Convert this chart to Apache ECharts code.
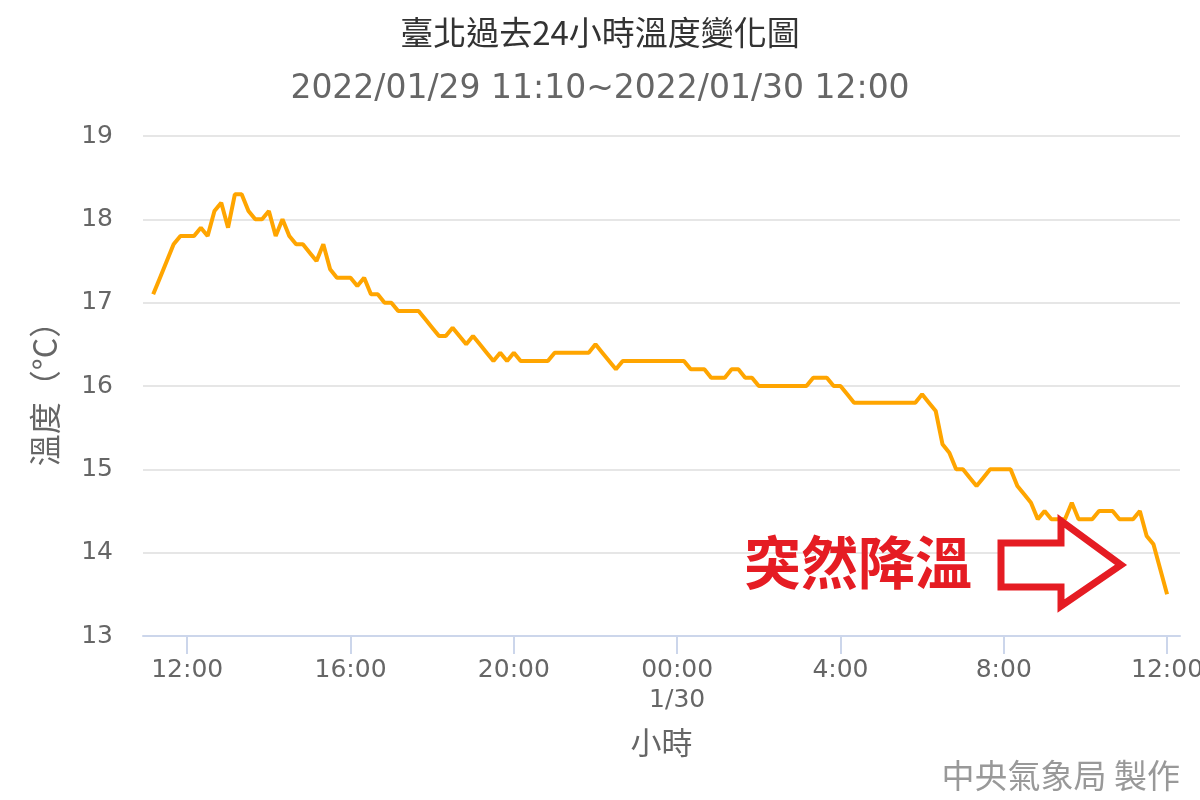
<!DOCTYPE html>
<html>
<head>
<meta charset="utf-8">
<script src="https://cdn.jsdelivr.net/npm/echarts@6/dist/echarts.min.js"></script>
<style>
  html, body { margin: 0; padding: 0; background: #fff; }
  #chart { width: 1200px; height: 800px; }
</style>
</head>
<body>
<div id="chart"></div>
<script>
// readings every 10 minutes, 2022/01/29 11:10 -> 2022/01/30 12:00
let startTime = new Date(2022, 0, 29, 11, 10).getTime();
let stepMinutes = 10;
let temps = [
    17.1, 17.3, 17.5, 17.7, 17.8,                 // 11:10 - 11:50
    17.8, 17.8, 17.9, 17.8, 18.1, 18.2,           // 12
    17.9, 18.3, 18.3, 18.1, 18.0, 18.0,           // 13
    18.1, 17.8, 18.0, 17.8, 17.7, 17.7,           // 14
    17.6, 17.5, 17.7, 17.4, 17.3, 17.3,           // 15
    17.3, 17.2, 17.3, 17.1, 17.1, 17.0,           // 16
    17.0, 16.9, 16.9, 16.9, 16.9, 16.8,           // 17
    16.7, 16.6, 16.6, 16.7, 16.6, 16.5,           // 18
    16.6, 16.5, 16.4, 16.3, 16.4, 16.3,           // 19
    16.4, 16.3, 16.3, 16.3, 16.3, 16.3,           // 20
    16.4, 16.4, 16.4, 16.4, 16.4, 16.4,           // 21
    16.5, 16.4, 16.3, 16.2, 16.3, 16.3,           // 22
    16.3, 16.3, 16.3, 16.3, 16.3, 16.3,           // 23
    16.3, 16.3, 16.2, 16.2, 16.2, 16.1,           // 00
    16.1, 16.1, 16.2, 16.2, 16.1, 16.1,           // 01
    16.0, 16.0, 16.0, 16.0, 16.0, 16.0,           // 02
    16.0, 16.0, 16.1, 16.1, 16.1, 16.0,           // 03
    16.0, 15.9, 15.8, 15.8, 15.8, 15.8,           // 04
    15.8, 15.8, 15.8, 15.8, 15.8, 15.8,           // 05
    15.9, 15.8, 15.7, 15.3, 15.2, 15.0,           // 06
    15.0, 14.9, 14.8, 14.9, 15.0, 15.0,           // 07
    15.0, 15.0, 14.8, 14.7, 14.6, 14.4,           // 08
    14.5, 14.4, 14.4, 14.4, 14.6, 14.4,           // 09
    14.4, 14.4, 14.5, 14.5, 14.5, 14.4,           // 10
    14.4, 14.4, 14.5, 14.2, 14.1, 13.8,           // 11
    13.5                                          // 12:00
];
let yTicks = { min: 13, max: 19, interval: 1 };

let titleText = '臺北過去24小時溫度變化圖';
let subtitleText = '2022/01/29 11:10~2022/01/30 12:00';
let yName = '溫度（°C）';
let xName = '小時';
let creditText = '中央氣象局 製作';
let noteText = '突然降溫';

let points = temps.map(function (v, i) {
    return [startTime + i * stepMinutes * 60000, v];
});

let chart = echarts.init(document.getElementById('chart'));
let HOUR = 3600 * 1000;

let option = {
    backgroundColor: '#fff',
    animation: false,
    title: [
        {
            text: titleText,
            left: 'center',
            top: 11,
            textStyle: { fontFamily: 'Noto Sans CJK TC', fontSize: 33, fontWeight: 'normal', color: '#333' }
        },
        {
            text: subtitleText,
            left: 'center',
            top: 68,
            textStyle: { fontFamily: 'DejaVu Sans', fontSize: 33, fontWeight: 'normal', color: '#666' }
        }
    ],
    grid: { left: 143, right: 20, top: 136, bottom: 164, outerBoundsMode: 'none', containLabel: false },
    xAxis: {
        type: 'time',
        min: startTime - 15 * 60000,
        max: startTime + (temps.length - 1) * stepMinutes * 60000 + 19 * 60000,
        minInterval: 4 * HOUR,
        maxInterval: 4 * HOUR,
        name: xName,
        nameLocation: 'middle',
        nameGap: 91,
        nameTextStyle: { fontFamily: 'Noto Sans CJK TC', fontSize: 31, color: '#666' },
        axisLine: { lineStyle: { color: '#ccd6eb', width: 2 } },
        axisTick: { show: true, length: 18, lineStyle: { color: '#ccd6eb', width: 2 } },
        splitLine: { show: false },
        axisLabel: {
            margin: 19,
            fontFamily: 'DejaVu Sans',
            fontSize: 25,
            color: '#666',
            lineHeight: 30,
            hideOverlap: false,
            formatter: function (val) {
                let d = new Date(val);
                let h = d.getHours();
                if (h === 0) {
                    return '00:00\n' + (d.getMonth() + 1) + '/' + d.getDate();
                }
                return h + ':00';
            }
        }
    },
    yAxis: {
        type: 'value',
        min: yTicks.min,
        max: yTicks.max,
        interval: yTicks.interval,
        name: yName,
        nameLocation: 'middle',
        nameRotate: 90,
        nameGap: 82,
        nameTextStyle: { fontFamily: 'Noto Sans CJK TC', fontSize: 32, color: '#666' },
        axisLine: { show: false },
        axisTick: { show: false },
        axisLabel: { margin: 30, fontFamily: 'DejaVu Sans', fontSize: 25, color: '#666' },
        splitLine: { lineStyle: { color: '#e6e6e6', width: 2 } }
    },
    series: [
        {
            name: '溫度',
            type: 'line',
            data: points,
            showSymbol: false,
            symbol: 'none',
            lineStyle: { color: '#ffa500', width: 4 },
            itemStyle: { color: '#ffa500' },
            z: 2
        }
    ],
    graphic: [
        {
            type: 'text',
            right: 20,
            top: 759,
            style: {
                text: creditText,
                font: '33px "Noto Sans CJK TC"',
                fill: '#999'
            }
        },
        {
            type: 'text',
            left: 744,
            top: 534,
            z: 10,
            style: {
                text: noteText,
                font: 'bold 57px "Noto Sans CJK TC"',
                fill: '#e51c23'
            }
        },
        {
            type: 'polygon',
            z: 10,
            shape: {
                points: [[1001, 543], [1061, 543], [1061, 521], [1121, 565], [1061, 606], [1061, 587], [1001, 587]]
            },
            style: { fill: '#fff', stroke: '#e51c23', lineWidth: 7, lineJoin: 'miter' }
        }
    ]
};
option && chart.setOption(option);
</script>
</body>
</html>
